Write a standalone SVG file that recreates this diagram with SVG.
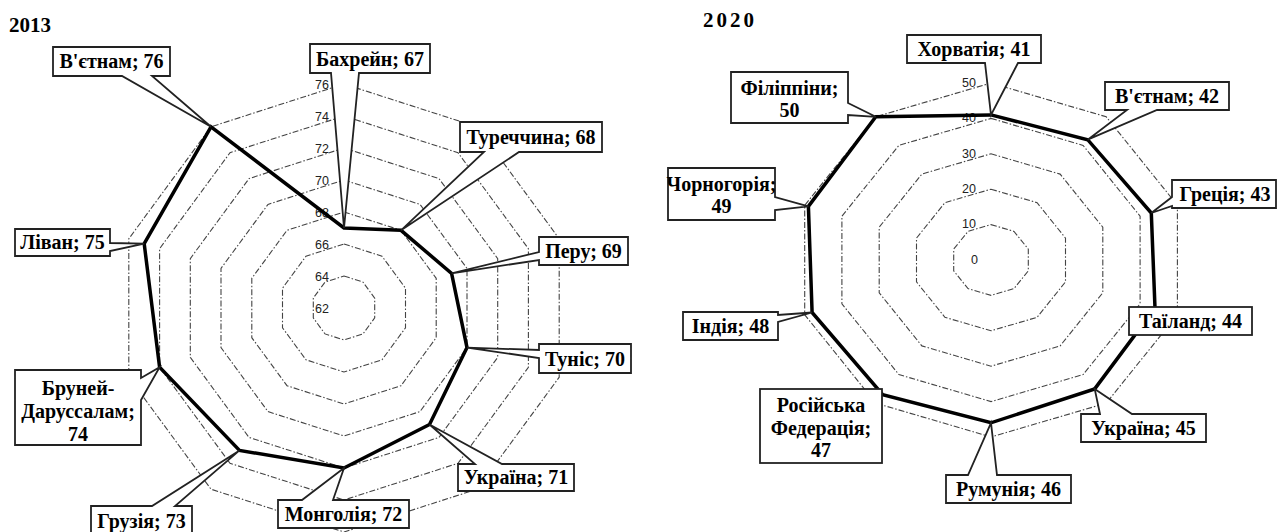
<svg xmlns="http://www.w3.org/2000/svg" width="1280" height="532" viewBox="0 0 1280 532">
<style>
.ring{fill:none;stroke:#444;stroke-width:1.1;stroke-dasharray:6 2 1.5 2}
.data{fill:none;stroke:#000;stroke-width:3.5;stroke-linejoin:miter}
.call{fill:#fff;stroke:#222;stroke-width:1.8;stroke-linejoin:miter}
.lbl{font-family:"Liberation Serif","Times New Roman",serif;font-weight:bold;font-size:20px;fill:#000;text-anchor:middle}
.ax{font-family:"Liberation Sans",Arial,sans-serif;font-size:12.5px;fill:#222;text-anchor:end}
.title{font-family:"Liberation Serif","Times New Roman",serif;font-weight:bold;font-size:21px;fill:#000}
</style>
<rect width="1280" height="532" fill="#fff"/>
<text class="title" x="9" y="32">2013</text>
<text class="title" x="703" y="27" letter-spacing="3">2020</text>

<g id="grid-2013">
<polygon class="ring" points="344,276 363,282.1 374.7,298.1 374.7,317.9 363,333.9 344,340 325,333.9 313.3,317.9 313.3,298.1 325,282.1"/>
<polygon class="ring" points="344,244 382,256.2 405.5,288.2 405.5,327.8 382,359.8 344,372 306,359.8 282.5,327.8 282.5,288.2 306,256.2"/>
<polygon class="ring" points="344,212 401,230.3 436.2,278.3 436.2,337.7 401,385.7 344,404 287,385.7 251.8,337.7 251.8,278.3 287,230.3"/>
<polygon class="ring" points="344,180 420,204.4 467,268.4 467,347.6 420,411.6 344,436 268,411.6 221,347.6 221,268.4 268,204.4"/>
<polygon class="ring" points="344,148 439,178.6 497.7,258.6 497.7,357.4 439,437.4 344,468 249,437.4 190.3,357.4 190.3,258.6 249,178.6"/>
<polygon class="ring" points="344,116 458,152.7 528.4,248.7 528.4,367.3 458,463.3 344,500 230,463.3 159.6,367.3 159.6,248.7 230,152.7"/>
<polygon class="ring" points="344,84 477,126.8 559.2,238.8 559.2,377.2 477,489.2 344,532 211,489.2 128.8,377.2 128.8,238.8 211,126.8"/>
<text class="ax" x="329" y="89">76</text>
<text class="ax" x="329" y="121">74</text>
<text class="ax" x="329" y="153">72</text>
<text class="ax" x="329" y="185">70</text>
<text class="ax" x="329" y="217">68</text>
<text class="ax" x="329" y="249">66</text>
<text class="ax" x="329" y="281">64</text>
<text class="ax" x="329" y="313">62</text>
</g>

<g id="grid-2020">
<polygon class="ring" points="991,224.6 1014,231.4 1028.3,249.1 1028.3,270.9 1014,288.6 991,295.4 968,288.6 953.7,270.9 953.7,249.1 968,231.4"/>
<polygon class="ring" points="991,189.2 1037.1,202.7 1065.5,238.1 1065.5,281.9 1037.1,317.3 991,330.8 944.9,317.3 916.5,281.9 916.5,238.1 944.9,202.7"/>
<polygon class="ring" points="991,153.8 1060.1,174.1 1102.8,227.2 1102.8,292.8 1060.1,345.9 991,366.2 921.9,345.9 879.2,292.8 879.2,227.2 921.9,174.1"/>
<polygon class="ring" points="991,118.4 1083.1,145.4 1140.1,216.2 1140.1,303.8 1083.1,374.6 991,401.6 898.9,374.6 841.9,303.8 841.9,216.2 898.9,145.4"/>
<polygon class="ring" points="991,83 1106.2,116.8 1177.4,205.3 1177.4,314.7 1106.2,403.2 991,437 875.8,403.2 804.7,314.7 804.7,205.3 875.8,116.8"/>
<text class="ax" x="976" y="87">50</text>
<text class="ax" x="976" y="122">40</text>
<text class="ax" x="976" y="158">30</text>
<text class="ax" x="976" y="193">20</text>
<text class="ax" x="976" y="228">10</text>
<text class="ax" x="978" y="264">0</text>
</g>

<g id="connectors">
<polygon class="data" points="344,228 401,230.3 451.6,273.4 467,347.6 429.5,424.5 344,468 239.5,450.4 159.6,367.3 144.2,243.7 211,126.8"/>
<polygon class="data" points="991,114.9 1087.7,139.7 1151.3,213 1155,308.1 1094.7,388.9 991,422.8 882.7,394.6 812.1,312.5 808.4,206.4 875.8,116.8"/>
</g>

<g id="n-bahrain"><path class="call" d="M310,44 H430 V73 H359 L344,228 L331,73 H310 Z"/><text class="lbl" x="370" y="66">Бахрейн; 67</text></g>
<g id="n-turkey"><path class="call" d="M460,122 H602 V152 H519 L401,230.3 L484,152 H460 Z"/><text class="lbl" x="531" y="144">Туреччина; 68</text></g>
<g id="n-peru"><path class="call" d="M539,237 H628 V265 H539 V260 L451.6,273.4 L539,252 Z"/><text class="lbl" x="583.5" y="258">Перу; 69</text></g>
<g id="n-tunisia"><path class="call" d="M539,344 H631 V373 H539 V358 L467,347.6 L539,350 Z"/><text class="lbl" x="585" y="366">Туніс; 70</text></g>
<g id="n-ukraine-2013"><path class="call" d="M458,464 H475 L429.5,424.5 L502,464 H574 V491 H458 Z"/><text class="lbl" x="516" y="484">Україна; 71</text></g>
<g id="n-mongolia"><path class="call" d="M278,500 H302 L344,468 L333,500 H409 V528 H278 Z"/><text class="lbl" x="343.5" y="521">Монголія; 72</text></g>
<g id="n-georgia"><path class="call" d="M91,506 H152 L239.5,450.4 L175,506 H192 V536 H91 Z"/><text class="lbl" x="141.5" y="528">Грузія; 73</text></g>
<g id="n-brunei"><path class="call" d="M15,370 H141 V378 L159.6,367.3 L141,400 V445 H15 Z"/><text class="lbl" x="78" y="395">Бруней-</text><text class="lbl" x="78" y="418">Даруссалам;</text><text class="lbl" x="78" y="441">74</text></g>
<g id="n-lebanon"><path class="call" d="M15,229 H110 V243 L144.2,243.7 L110,251 V256 H15 Z"/><text class="lbl" x="62.5" y="249">Ліван; 75</text></g>
<g id="n-vietnam-2013"><path class="call" d="M53,47 H170 V76 H152 L211,126.8 L122,76 H53 Z"/><text class="lbl" x="111.5" y="68">В'єтнам; 76</text></g>

<g id="n-croatia"><path class="call" d="M907,35 H1041 V63 H1018 L991,114.9 L985,63 H907 Z"/><text class="lbl" x="974" y="56">Хорватія; 41</text></g>
<g id="n-vietnam-2020"><path class="call" d="M1105,82 H1229 V110 H1157 L1087.7,139.7 L1127,110 H1105 Z"/><text class="lbl" x="1167" y="103">В'єтнам; 42</text></g>
<g id="n-greece"><path class="call" d="M1172,180 H1276 V208 H1172 V206 L1151.3,213 L1172,197 Z"/><text class="lbl" x="1225" y="201">Греція; 43</text></g>
<g id="n-thailand"><rect class="call" x="1129" y="307" width="123" height="28"/><text class="lbl" x="1190.5" y="328">Таїланд; 44</text></g>
<g id="n-ukraine-2020"><path class="call" d="M1081,414 H1100 L1094.7,388.9 L1132,414 H1206 V442 H1081 Z"/><text class="lbl" x="1143.5" y="435">Україна; 45</text></g>
<g id="n-romania"><path class="call" d="M946,475 H968 L991,422.8 L997,475 H1071 V503 H946 Z"/><text class="lbl" x="1008.5" y="496">Румунія; 46</text></g>
<g id="n-russia"><rect class="call" x="760" y="389" width="122" height="74"/><text class="lbl" x="821" y="412">Російська</text><text class="lbl" x="821" y="435">Федерація;</text><text class="lbl" x="821" y="457">47</text></g>
<g id="n-india"><path class="call" d="M683,312 H778 V315 L812.1,312.5 L778,322 V340 H683 Z"/><text class="lbl" x="730.5" y="333">Індія; 48</text></g>
<g id="n-montenegro"><path class="call" d="M668,168 H775 V197 L808.4,206.4 L775,210 V220 H668 Z"/><text class="lbl" x="721.5" y="191">Чорногорія;</text><text class="lbl" x="721.5" y="213">49</text></g>
<g id="n-philippines"><path class="call" d="M731,72 H848 V103 L875.8,116.8 L848,115 V123 H731 Z"/><text class="lbl" x="789.5" y="95">Філіппіни;</text><text class="lbl" x="789.5" y="117">50</text></g>
</svg>
